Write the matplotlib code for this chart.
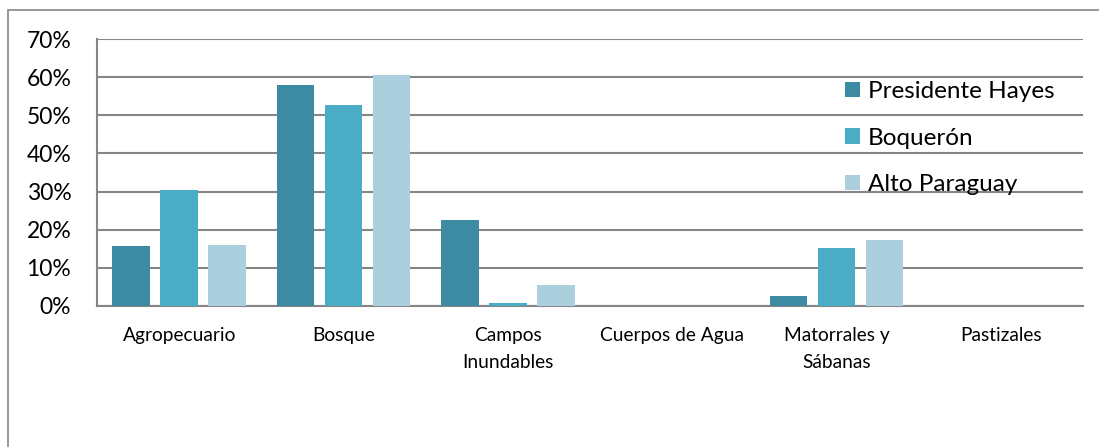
import numpy as np
import matplotlib.pyplot as plt
from matplotlib.patches import Rectangle

# ===== datos =====
categorias = ["Agropecuario", "Bosque", "Campos\nInundables", "Cuerpos de Agua",
              "Matorrales y\nSábanas", "Pastizales"]
series = ["Presidente Hayes", "Boquerón", "Alto Paraguay"]
pres_hayes = [15.8, 58.0, 22.6, 0.0, 2.7, 0.0]
boqueron = [30.4, 52.8, 0.8, 0.0, 15.3, 0.0]
alto_paraguay = [15.9, 60.6, 5.5, 0.0, 17.3, 0.0]
colores = ["#3D8BA3", "#4BACC6", "#ABCFDD"]

plt.rcParams['font.family'] = ['Lato', 'DejaVu Sans']

fig = plt.figure(figsize=(10.99, 4.47), dpi=100)
W, H = 1099, 447
# borde exterior del grafico
fig.patches.append(Rectangle((8 / W, -0.1), 1.2, (H - 10) / H + 0.1,
                             transform=fig.transFigure, fill=False,
                             edgecolor="#868686", linewidth=1.2))

ax = fig.add_axes([97 / W, (H - 306) / H, 986 / W, 267 / H])
x = np.arange(len(categorias))
ancho = 0.231
paso = 0.292
for i, (vals, nombre) in enumerate(zip([pres_hayes, boqueron, alto_paraguay], series)):
    ax.bar(x + (i - 1) * paso, vals, width=ancho, color=colores[i], label=nombre, zorder=3)

ax.set_xlim(-0.5, len(categorias) - 0.5)
ax.set_ylim(0, 70)
ax.set_yticks(range(0, 71, 10))
ax.set_yticklabels([f"{v}%" for v in range(0, 71, 10)], fontsize=16.5)
ax.set_xticks(x)
ax.set_xticklabels(categorias, fontsize=13.8, linespacing=1.7)
ax.tick_params(axis="both", length=0)
ax.tick_params(axis="y", pad=18.5)
ax.tick_params(axis="x", pad=15)
ax.grid(axis="y", color="#868686", linewidth=1.5, zorder=0)
for s in ["top", "right"]:
    ax.spines[s].set_visible(False)
for s in ["left", "bottom"]:
    ax.spines[s].set_color("#868686")
    ax.spines[s].set_linewidth(1.5)

ax.legend(loc="upper left", bbox_to_anchor=((845 - 97) / 986, (306 - 81) / 267),
          frameon=False, fontsize=17.5, handlelength=0.6, handleheight=0.6,
          handletextpad=0.35, labelspacing=1.05, borderaxespad=0, borderpad=0)

fig.savefig("out.png", dpi=100)
